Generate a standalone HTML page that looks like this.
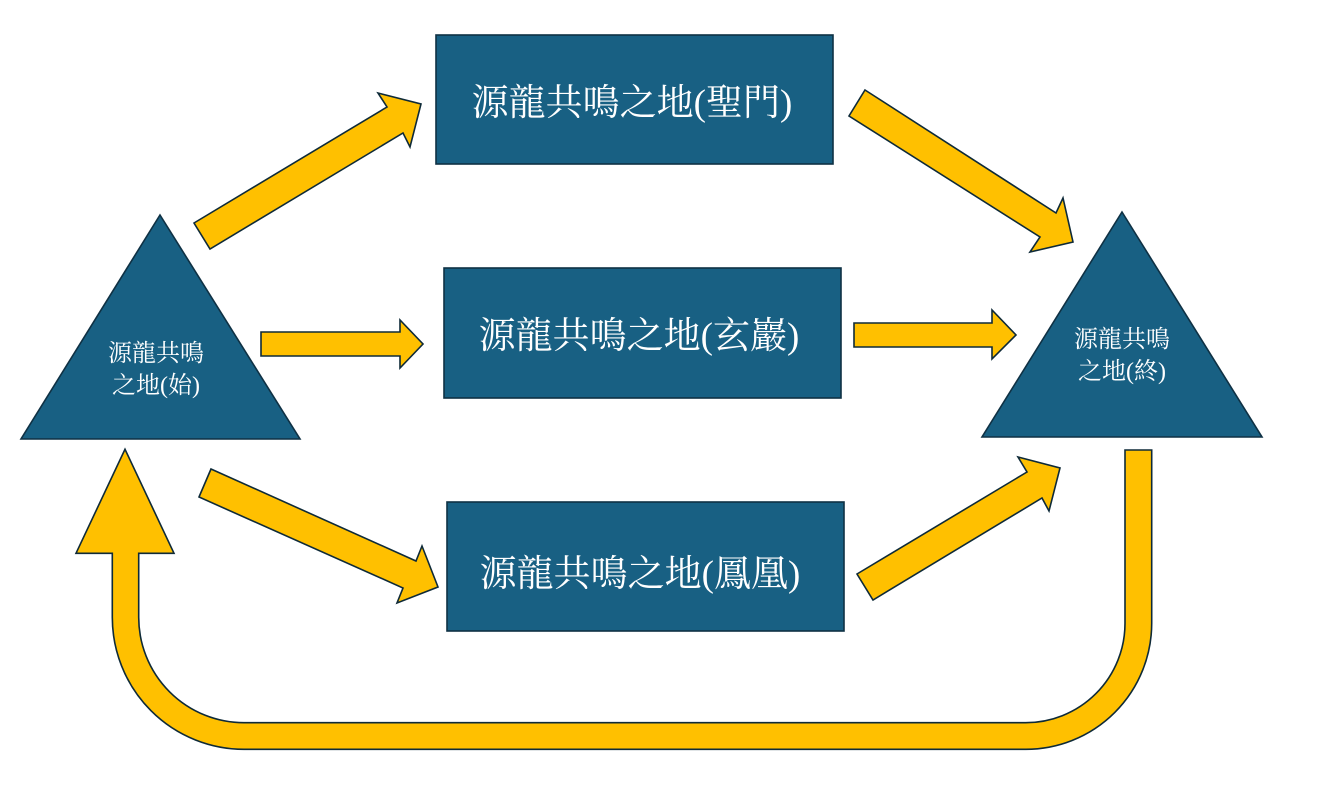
<!DOCTYPE html>
<html>
<head>
<meta charset="utf-8">
<style>
  html, body { margin:0; padding:0; background:#ffffff; }
  body { width:1326px; height:788px; overflow:hidden; }
  svg { display:block; }
  .t { font-family: "Liberation Serif", "Noto Serif CJK SC", "Noto Serif CJK TC", serif; fill:#ffffff; }
</style>
</head>
<body>
<svg width="1326" height="788" viewBox="0 0 1326 788" xmlns="http://www.w3.org/2000/svg">
  <rect x="0" y="0" width="1326" height="788" fill="#ffffff"/>

  <!-- Boxes -->
  <g fill="#186083" stroke="#0f3144" stroke-width="1.6">
    <rect x="436" y="35" width="397" height="129"/>
    <rect x="444" y="268" width="397" height="130"/>
    <rect x="447" y="502" width="397" height="129"/>
  </g>

  <!-- Triangles -->
  <g fill="#186083" stroke="#0f3144" stroke-width="1.6" stroke-linejoin="miter">
    <polygon points="160,215 300,439 21,439"/>
    <polygon points="1122,212 1262,437 982,437"/>
  </g>

  <!-- Arrows -->
  <g fill="#FFC000" stroke="#0e2a38" stroke-width="1.6" stroke-linejoin="miter">
    <!-- top-left diagonal -->
    <polygon points="194,223 387,107 378,93 421,104 410,147 403,133 210,249"/>
    <!-- top-right diagonal -->
    <polygon points="865,90 1056,213 1063,198 1073,242 1030,252 1040,237 849,116"/>
    <!-- middle left -->
    <polygon points="261,332 400,332 400,320 423,344 400,368 400,356 261,356"/>
    <!-- middle right -->
    <polygon points="854,323 992,323 992,310 1016,335 992,359 992,347 854,347"/>
    <!-- bottom-left diagonal -->
    <polygon points="211,469 416,561 422,546 438,587 397,603 403,588 199,497"/>
    <!-- bottom-right diagonal -->
    <polygon points="857,574 1027,472 1018,457 1060,468 1049,511 1042,498 873,600"/>
    <!-- U-turn arrow -->
    <path d="M1151.7,450 L1151.7,623.3 A126,126 0 0 1 1025.7,749.3 L244,749.3 A132,132 0 0 1 112.3,617.3 L112.3,553.3 L76,553.3 L125,449.3 L174,553.3 L138.7,553.3 L138.7,617.3 A105.4,105.4 0 0 0 244,722.7 L1025.7,722.7 A99.3,99.3 0 0 0 1125,623.4 L1125,450 Z"/>
  </g>

  <!-- Box labels -->
  <text class="t" x="632" y="115" font-size="37" text-anchor="middle">源龍共鳴之地(聖門)</text>
  <text class="t" x="639" y="348" font-size="37" text-anchor="middle">源龍共鳴之地(玄巖)</text>
  <text class="t" x="640" y="586" font-size="37" text-anchor="middle">源龍共鳴之地(鳳凰)</text>

  <!-- Triangle labels -->
  <text class="t" x="156" y="361" font-size="24" text-anchor="middle">源龍共鳴</text>
  <text class="t" x="156" y="393" font-size="24" text-anchor="middle">之地(始)</text>
  <text class="t" x="1122" y="347" font-size="24" text-anchor="middle">源龍共鳴</text>
  <text class="t" x="1122" y="379" font-size="24" text-anchor="middle">之地(終)</text>
</svg>
</body>
</html>
